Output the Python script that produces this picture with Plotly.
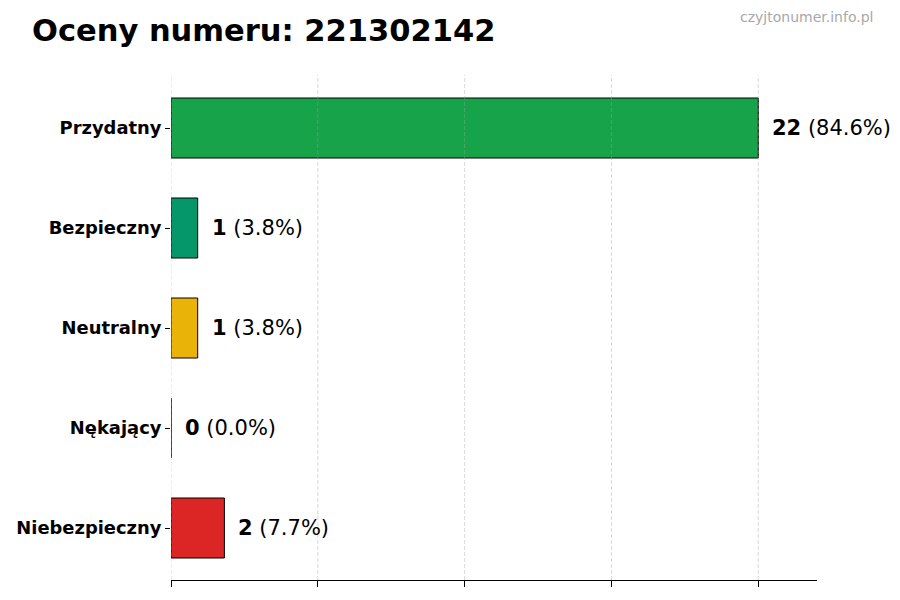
import plotly.graph_objects as go

# data
categories = ['Przydatny', 'Bezpieczny', 'Neutralny', 'Nękający', 'Niebezpieczny']
counts = [22, 1, 1, 0, 2]
bar_colors = ['#16a34a', '#059669', '#eab308', '#6b7280', '#dc2626']
x_ticks = [0, 5.5, 11, 16.5, 22]

total = sum(counts)
FONT = 'DejaVu Sans'

# page body adds ~8px offset, so margins are pulled back by that much
L, R, T, B = 163, 91, 67, 28
plot_w = 900 - L - R
plot_h = 600 - T - B

fig = go.Figure()
fig.add_trace(go.Bar(
    x=counts, y=categories, orientation='h',
    marker=dict(color=bar_colors, line=dict(color='black', width=1)),
    width=0.6, hoverinfo='skip',
))

# dashed grid drawn on top of the bars, semi transparent
for t in x_ticks:
    fig.add_shape(type='line', xref='x', yref='paper', x0=t, x1=t, y0=0, y1=1,
                  layer='above', line=dict(color='rgba(160,160,160,0.4)', width=1, dash='4px,2px'))

# value labels to the right of each bar
for cat, n in zip(categories, counts):
    pct = n / total * 100
    fig.add_annotation(
        x=n, y=cat, xref='x', yref='y',
        text='<b>{}</b> ({:.1f}%)'.format(n, pct),
        showarrow=False, xanchor='left', xshift=12,
        font=dict(family=FONT, size=21, color='black'),
    )

fig.update_layout(
    width=900, height=600,
    margin=dict(l=L, r=R, t=T, b=B),
    plot_bgcolor='white', paper_bgcolor='white',
    font=dict(family=FONT, color='black'),
    showlegend=False,
    title=dict(text='<b>Oceny numeru: 221302142</b>', x=24 / 900, xanchor='left',
               y=1 - 22 / 600, yanchor='middle', font=dict(family=FONT, size=30.5, color='black')),
)
fig.add_annotation(
    text='czyjtonumer.info.pl', xref='paper', yref='paper',
    x=(867 - L) / plot_w, y=1 + (T - 9) / plot_h,
    xanchor='right', yanchor='middle', showarrow=False,
    font=dict(family=FONT, size=14, color='#a8a8a8'),
)

fig.update_xaxes(range=[0, max(counts) * 1.1], tickvals=x_ticks, showticklabels=False,
                 ticks='outside', ticklen=6, tickcolor='black', automargin=False,
                 showgrid=False, showline=True, linecolor='black', linewidth=1.3, zeroline=False)
fig.update_yaxes(range=[4.52, -0.53], ticks='outside', ticklen=5, tickcolor='black',
                 tickfont=dict(family=FONT, size=17.9, color='black'), automargin=False,
                 showgrid=False, showline=False, zeroline=False)
fig.update_yaxes(tickvals=categories, ticktext=['<b>{}</b>'.format(c) for c in categories])

fig.write_html('out.html')
